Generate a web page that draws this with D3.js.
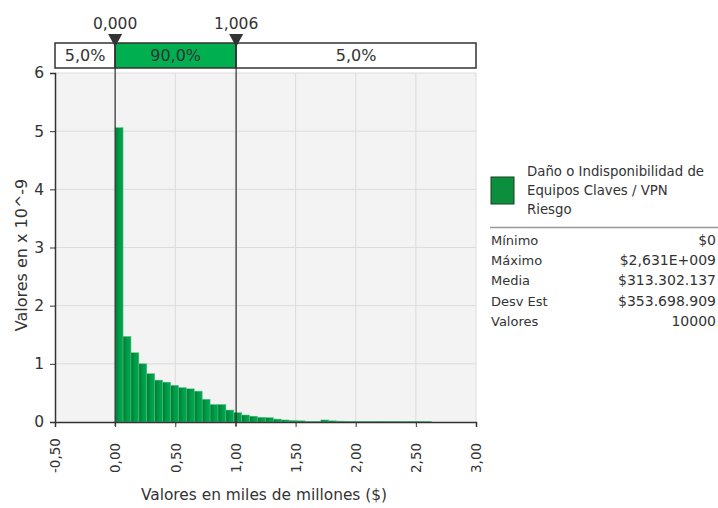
<!DOCTYPE html>
<html><head><meta charset="utf-8">
<script src="https://cdn.jsdelivr.net/npm/d3@7"></script>
<style>body{margin:0;background:#fff}svg{display:block}text{font-family:"DejaVu Sans",Verdana,sans-serif;fill:#333}</style>
</head><body>
<script>
// ---- data ----
const binMin = 0;            // miles de millones
const binMax = 2.631;
const densities = [5.06,1.47,1.19,1.00,0.83,0.72,0.685,0.63,0.59,0.57,0.53,0.39,0.30,0.30,0.205,0.16,0.12,0.10,0.08,0.075,0.05,0.035,0.025,0.02,0.01,0.01,0.035,0.02,0.015,0.012,0.012,0.010,0.010,0.012,0.010,0.010,0.008,0.010,0.008,0.006];
const xTicks = [-0.5,0,0.5,1,1.5,2,2.5,3];
const yTicks = [0,1,2,3,4,5,6];
const markers = [0.000, 1.006];
const markerLabels = ["0,000","1,006"];
const bandLabels = ["5,0%","90,0%","5,0%"];
const legendName = ["Daño o Indisponibilidad de","Equipos Claves / VPN","Riesgo"];
const statNames = ["Mínimo","Máximo","Media","Desv Est","Valores"];
const statValues = ["$0","$2,631E+009","$313.302.137","$353.698.909","10000"];

const W=718,H=508;
const svg=d3.select("body").append("svg").attr("width",W).attr("height",H);
const x=d3.scaleLinear().domain([-0.5,3]).range([55,476]);
const y=d3.scaleLinear().domain([0,6]).range([422,73]);
const fmt=v=>d3.format(".2f")(v).replace(".",",").replace("\u2212","-");
const green="#00b050";

// plot background
svg.append("rect").attr("x",x(-0.5)).attr("y",y(6)).attr("width",x(3)-x(-0.5)).attr("height",y(0)-y(6)).attr("fill","#f3f3f3");
// gridlines
svg.append("g").selectAll("line").data(yTicks.slice(1)).join("line")
 .attr("x1",x(-0.5)).attr("x2",x(3)).attr("y1",d=>y(d)).attr("y2",d=>y(d)).attr("stroke","#dcdcdc");
svg.append("g").selectAll("line").data(xTicks.slice(1)).join("line")
 .attr("y1",y(0)).attr("y2",y(6)).attr("x1",d=>x(d)).attr("x2",d=>x(d)).attr("stroke","#dcdcdc");

// bars
const bw=(binMax-binMin)/densities.length;
const gradId="barGrad";
const grad=svg.append("defs").append("linearGradient").attr("id",gradId).attr("x1",0).attr("x2",1).attr("y1",0).attr("y2",0);
grad.append("stop").attr("offset","0%").attr("stop-color","#007a35");
grad.append("stop").attr("offset","55%").attr("stop-color","#009c47");
grad.append("stop").attr("offset","100%").attr("stop-color","#00a84f");
svg.append("g").selectAll("rect").data(densities).join("rect")
 .attr("x",(d,i)=>x(binMin+i*bw)).attr("width",(d,i)=>x(binMin+(i+1)*bw)-x(binMin+i*bw))
 .attr("y",d=>y(d)).attr("height",d=>y(0)-y(d))
 .attr("fill","url(#"+gradId+")").attr("stroke","#50c080").attr("stroke-width",0.5);

// axes
const ya=svg.append("g").attr("transform",`translate(${x(-0.5)},0)`)
 .call(d3.axisLeft(y).tickValues(yTicks).tickSize(5).tickPadding(6).tickFormat(d3.format("d")));
ya.select(".domain").attr("stroke","#333").attr("stroke-width",1.5);
ya.selectAll(".tick line").attr("stroke","#333");
ya.selectAll("text").style("font-size","15.5px").attr("fill","#333").style("font-family","DejaVu Sans");

const xa=svg.append("g").attr("transform",`translate(0,${y(0)})`)
 .call(d3.axisBottom(x).tickValues(xTicks).tickSize(5).tickSizeOuter(5).tickFormat(fmt));
xa.select(".domain").attr("stroke","#333").attr("stroke-width",1.5);
xa.selectAll(".tick line").attr("stroke","#333");
xa.selectAll("text").style("font-size","13.5px").attr("fill","#333").style("font-family","DejaVu Sans")
 .attr("text-anchor","start").attr("dy","0.35em").attr("y",0)
 .attr("transform","translate(0,51) rotate(-90)").attr("x",0);

// axis titles
svg.append("text").attr("x",264).attr("y",500).attr("text-anchor","middle").style("font-size","15.4px").text("Valores en miles de millones ($)");
svg.append("text").attr("transform","translate(27,255) rotate(-90)").attr("text-anchor","middle").style("font-size","16px").text("Valores en x 10^-9");

// percentile band
const bandY=43,bandH=25;
const bounds=[-0.5,markers[0],markers[1],3];
const band=svg.append("g");
band.selectAll("rect").data(bandLabels).join("rect")
 .attr("x",(d,i)=>x(bounds[i])).attr("width",(d,i)=>x(bounds[i+1])-x(bounds[i]))
 .attr("y",bandY).attr("height",bandH)
 .attr("fill",(d,i)=>i===1?green:"#fff").attr("stroke","#333").attr("stroke-width",1.5);
band.selectAll("text").data(bandLabels).join("text")
 .attr("x",(d,i)=>(x(bounds[i])+x(bounds[i+1]))/2).attr("y",bandY+bandH/2).attr("dy","0.36em")
 .attr("text-anchor","middle").style("font-size","16px").text(d=>d);

// marker lines, triangles, labels
const mk=svg.append("g");
mk.selectAll("line").data(markers).join("line")
 .attr("x1",d=>x(d)).attr("x2",d=>x(d)).attr("y1",bandY).attr("y2",y(0)+4).attr("stroke","#333").attr("stroke-width",1.2);
mk.selectAll("path").data(markers).join("path")
 .attr("d",d=>`M${x(d)-7},34 L${x(d)+7},34 L${x(d)},47 Z`).attr("fill","#333");
mk.selectAll("text").data(markers).join("text")
 .attr("x",d=>x(d)).attr("y",29).attr("text-anchor","middle").style("font-size","15.5px").text((d,i)=>markerLabels[i]);

// legend
const lg=svg.append("g");
lg.append("rect").attr("x",491).attr("y",177).attr("width",23).attr("height",27).attr("fill","#0b8f3c").attr("stroke","#1f3d25").attr("stroke-width",1);
lg.selectAll("text.n").data(legendName).join("text").attr("class","n")
 .attr("x",527).attr("y",(d,i)=>176+i*19).style("font-size","13.3px").text(d=>d);
lg.append("line").attr("x1",490).attr("x2",718).attr("y1",227.5).attr("y2",227.5).attr("stroke","#999").attr("stroke-width",1.5);
lg.selectAll("text.s").data(statNames).join("text").attr("class","s")
 .attr("x",491).attr("y",(d,i)=>245+i*20.2).style("font-size","13px").text(d=>d);
lg.selectAll("text.v").data(statValues).join("text").attr("class","v")
 .attr("x",716).attr("y",(d,i)=>245+i*20.2).attr("text-anchor","end").style("font-size","14px").text(d=>d);
</script>
</body></html>
